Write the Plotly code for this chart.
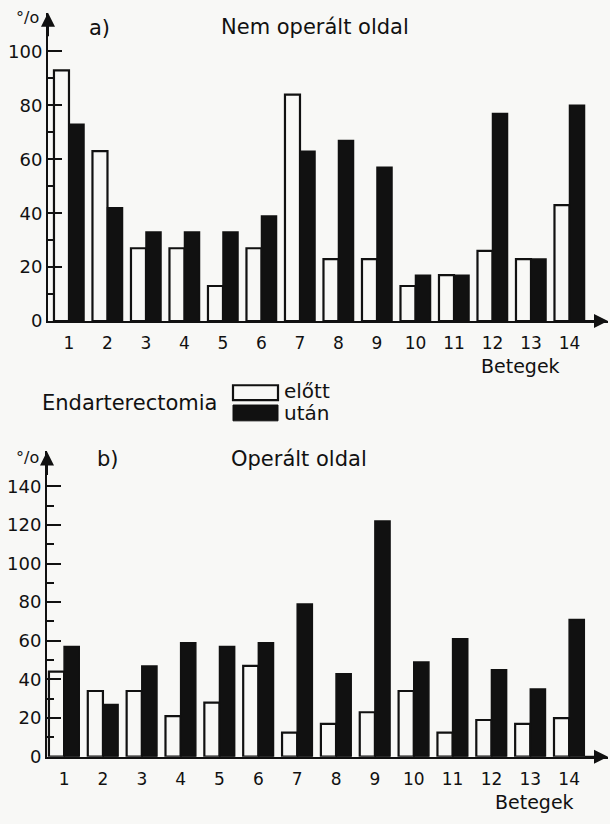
import plotly.graph_objects as go

patients = list(range(1, 15))
tick_labels = [str(p) for p in patients]

# Panel a) Nem operált oldal (%)
a_elott = [93, 63, 27, 27, 13, 27, 84, 23, 23, 13, 17, 26, 23, 43]
a_utan = [73, 42, 33, 33, 33, 39, 63, 67, 57, 17, 17, 77, 23, 80]
a_major = [0, 20, 40, 60, 80, 100]
a_minor = [10, 30, 50, 70, 90]

# Panel b) Operált oldal (%)
b_elott = [44, 34, 34, 21, 28, 47, 12.5, 17, 23, 34, 12.5, 19, 17, 20]
b_utan = [57, 27, 47, 59, 57, 59, 79, 43, 122, 49, 61, 45, 35, 71]
b_major = [0, 20, 40, 60, 80, 100, 120, 140]
b_minor = [10, 30, 50, 70, 90, 110, 130]

W, H = 610, 824
FONT = "DejaVu Sans"
BG = "#f8f8f6"
INK = "#111111"

fig = go.Figure()

def add_pair(elott, utan, xa, ya):
    fig.add_trace(go.Bar(x=patients, y=elott, name="előtt", xaxis=xa, yaxis=ya,
                         marker=dict(color=BG, line=dict(color=INK, width=2.2)),
                         showlegend=False))
    fig.add_trace(go.Bar(x=patients, y=utan, name="után", xaxis=xa, yaxis=ya,
                         marker=dict(color=INK, line=dict(color=INK, width=1.5)),
                         showlegend=False))

add_pair(a_elott, a_utan, "x", "y")
add_pair(b_elott, b_utan, "x2", "y2")

def px_x(p):
    return p / W

def px_y(p):
    return 1 - p / H

xa_range = [0.455, 15.0]
xb_range = [0.56, 15.0]
ya_top = 114.3
yb_top = 158

common_x = dict(showline=True, linecolor=INK, linewidth=2, ticks="", showgrid=False,
                zeroline=False, tickmode="array", tickvals=patients, ticktext=tick_labels,
                ticklabelstandoff=6,
                tickfont=dict(family=FONT, size=17, color=INK), fixedrange=True)
common_y = dict(showline=True, linecolor=INK, linewidth=2, tickmode="array",
                ticks="inside", ticklen=14,
                tickwidth=2, tickcolor=INK, showgrid=False, zeroline=False,
                tickfont=dict(family=FONT, size=18, color=INK))

def minor(vals):
    return dict(tickmode="array", tickvals=vals, ticks="inside", ticklen=7, tickwidth=2,
                tickcolor=INK, showgrid=False)

fig.update_layout(
    width=W, height=H, margin=dict(l=0, r=0, t=0, b=0),
    paper_bgcolor=BG, plot_bgcolor=BG,
    barmode="group", bargap=0.22, bargroupgap=0,
    xaxis=dict(domain=[px_x(48), px_x(608)], range=xa_range, anchor="y", **common_x),
    yaxis=dict(domain=[px_y(325), px_y(13)], range=[0, ya_top], anchor="x",
               tickvals=a_major, minor=minor(a_minor), **common_y),
    xaxis2=dict(domain=[px_x(47), px_x(608)], range=xb_range, anchor="y2", **common_x),
    yaxis2=dict(domain=[px_y(766), px_y(457)], range=[0, yb_top], anchor="x2",
                tickvals=b_major, minor=minor(b_minor), **common_y),
)

# axis arrows
arrow = dict(text="", showarrow=True, arrowhead=2, arrowsize=1.4, arrowwidth=2,
             arrowcolor=INK)
fig.add_annotation(x=xa_range[1], y=0, xref="x", yref="y", ax=-25, ay=0, **arrow)
fig.add_annotation(x=xa_range[0], y=ya_top, xref="x", yref="y", ax=0, ay=25, **arrow)
fig.add_annotation(x=xb_range[1], y=0, xref="x2", yref="y2", ax=-25, ay=0, **arrow)
fig.add_annotation(x=xb_range[0], y=yb_top, xref="x2", yref="y2", ax=0, ay=25, **arrow)

def text(t, x, y, size=17, xanchor="center"):
    fig.add_annotation(text=t, x=px_x(x), y=px_y(y), xref="paper", yref="paper",
                       showarrow=False, xanchor=xanchor, yanchor="middle",
                       font=dict(family=FONT, size=size, color=INK))

text("°/o", 27, 18, 16)
text("a)", 100, 28, 21)
text("Nem operált oldal", 315, 27, 21)
text("Betegek", 562, 370, 19, "right")

text("Endarterectomia", 40, 408, 21, "left")
text("előtt", 282, 396, 20, "left")
text("után", 282, 418, 20, "left")
fig.add_shape(type="rect", xref="paper", yref="paper",
              x0=px_x(233), x1=px_x(278), y0=px_y(405), y1=px_y(390),
              fillcolor=BG, line=dict(color=INK, width=2.2))
fig.add_shape(type="rect", xref="paper", yref="paper",
              x0=px_x(233), x1=px_x(278), y0=px_y(426), y1=px_y(410),
              fillcolor=INK, line=dict(color=INK, width=1))

text("°/o", 27, 463, 16)
text("b)", 108, 465, 21)
text("Operált oldal", 299, 465, 21)
text("Betegek", 576, 812, 19, "right")

fig.write_html("out.html")
